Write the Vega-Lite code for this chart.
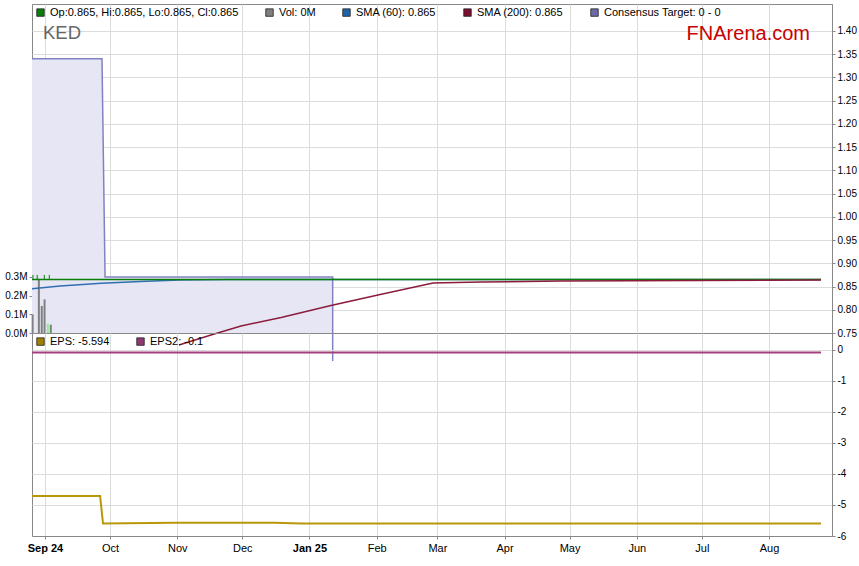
{
  "$schema": "https://vega.github.io/schema/vega-lite/v6.json",
  "autosize": {"type": "pad"},
  "padding": {"left": 4, "top": 3, "right": 5, "bottom": 5},
  "background": "white",
  "bounds": "flush",
  "spacing": 0,
  "config": {
    "font": "Liberation Sans",
    "view": {"stroke": "#888888"},
    "axis": {"labelFont": "Liberation Sans", "labelFontSize": 10, "labelColor": "#000000", "tickColor": "#888888", "domainColor": "#888888", "gridColor": "#dcdcdc", "tickSize": 3, "labelPadding": 2}
  },
  "resolve": {"scale": {"color": "independent"}, "legend": {"color": "independent"}},
  "vconcat": [
    {
      "width": 800,
      "height": 329,
      "resolve": {"scale": {"y": "independent"}},
      "encoding": {
        "x": {"field": "date", "type": "temporal",
          "scale": {"type": "utc", "padding": 0, "domain": [{"year": 2024, "month": 8, "date": 26, "utc": true}, {"year": 2025, "month": 8, "date": 30, "hours": 1, "minutes": 26, "utc": true}]},
          "axis": {"values": [{"year": 2024, "month": 9, "date": 1, "utc": true}, {"year": 2024, "month": 10, "date": 1, "utc": true}, {"year": 2024, "month": 11, "date": 1, "utc": true}, {"year": 2024, "month": 12, "date": 1, "utc": true}, {"year": 2025, "month": 1, "date": 1, "utc": true}, {"year": 2025, "month": 2, "date": 1, "utc": true}, {"year": 2025, "month": 3, "date": 1, "utc": true}, {"year": 2025, "month": 4, "date": 1, "utc": true}, {"year": 2025, "month": 5, "date": 1, "utc": true}, {"year": 2025, "month": 6, "date": 1, "utc": true}, {"year": 2025, "month": 7, "date": 1, "utc": true}, {"year": 2025, "month": 8, "date": 1, "utc": true}], "labels": false, "ticks": false, "domain": false, "grid": true, "title": null}}
      },
      "layer": [
        {
          "data": {"values": [{}]},
          "mark": {"type": "rect", "color": "#e4e4e4"},
          "encoding": {
            "x": {"datum": {"year": 2024, "month": 8, "date": 26, "utc": true}, "type": "temporal"},
            "x2": {"datum": {"year": 2025, "month": 8, "date": 30, "hours": 1, "minutes": 26, "utc": true}},
            "y": {"datum": 1.4581, "type": "quantitative", "scale": {"domain": [0.75, 1.4581], "nice": false, "zero": false},
              "axis": {"orient": "right", "values": [0.75, 0.8, 0.85, 0.9, 0.95, 1.0, 1.05, 1.1, 1.15, 1.2, 1.25, 1.3, 1.35, 1.4], "format": ".2f", "grid": true, "title": null}},
            "y2": {"datum": 1.428}
          }
        },
        {
          "data": {"values": [{}]},
          "mark": {"type": "rect", "color": "#e4e4e4", "clip": false},
          "encoding": {
            "x": {"datum": {"year": 2024, "month": 8, "date": 26, "utc": true}, "type": "temporal"},
            "x2": {"datum": {"year": 2025, "month": 8, "date": 30, "hours": 1, "minutes": 26, "utc": true}},
            "y": {"datum": 0.7478, "type": "quantitative", "scale": {"domain": [0.75, 1.4581], "nice": false, "zero": false}, "axis": null},
            "y2": {"datum": 0.7177}
          }
        },
        {
          "data": {"values": [
            {"i": 0, "date": "2024-08-26T00:00:00Z", "v": 1.34},
            {"i": 1, "date": "2024-09-27T07:00:00Z", "v": 1.34},
            {"i": 2, "date": "2024-09-28T17:00:00Z", "v": 0.8705},
            {"i": 3, "date": "2025-01-11T17:00:00Z", "v": 0.8705},
            {"i": 4, "date": "2025-01-11T17:00:00Z", "v": 0.6897}
          ]},
          "transform": [{"filter": "datum.i < 4"}],
          "mark": {"type": "area", "color": "#e6e6f5"},
          "encoding": {
            "y": {"field": "v", "type": "quantitative", "scale": {"domain": [0.75, 1.4581], "nice": false, "zero": false}, "axis": null},
            "y2": {"datum": 0.75}
          }
        },
        {
          "data": {"values": [
            {"i": 0, "date": "2024-08-26T00:00:00Z", "v": 1.34},
            {"i": 1, "date": "2024-09-27T07:00:00Z", "v": 1.34},
            {"i": 2, "date": "2024-09-28T17:00:00Z", "v": 0.8705},
            {"i": 3, "date": "2025-01-11T17:00:00Z", "v": 0.8705},
            {"i": 4, "date": "2025-01-11T17:00:00Z", "v": 0.6897}
          ]},
          "mark": {"type": "line", "color": "#8282c2", "strokeWidth": 1.5, "clip": false},
          "encoding": {
            "y": {"field": "v", "type": "quantitative", "scale": {"domain": [0.75, 1.4581], "nice": false, "zero": false}, "axis": null},
            "order": {"field": "i", "type": "quantitative"}
          }
        },
        {
          "data": {"values": [
            {"date": "2024-08-26T07:00:00Z", "volume": 100000, "change": "down"},
            {"date": "2024-08-29T04:00:00Z", "volume": 290000, "change": "down"},
            {"date": "2024-08-30T12:00:00Z", "volume": 145000, "change": "down"},
            {"date": "2024-08-31T19:00:00Z", "volume": 180000, "change": "down"},
            {"date": "2024-09-02T07:00:00Z", "volume": 50000, "change": "up"},
            {"date": "2024-09-03T16:00:00Z", "volume": 45000, "change": "down"}
          ]},
          "mark": {"type": "bar", "width": 2},
          "encoding": {
            "y": {"field": "volume", "type": "quantitative", "scale": {"domain": [0, 1762000], "nice": false},
              "axis": {"orient": "left", "values": [0, 100000, 200000, 300000], "labelExpr": "format(datum.value / 1000000, '.1f') + 'M'", "grid": false, "domain": false, "title": null}},
            "color": {"condition": {"test": "datum.change === 'up'", "value": "#90ee90"}, "value": "#808080"}
          }
        },
        {
          "data": {"values": [
            {"date": "2024-08-26T10:30:00Z", "low": 0.865, "high": 0.875},
            {"date": "2024-08-28T09:30:00Z", "low": 0.865, "high": 0.875},
            {"date": "2024-08-31T16:00:00Z", "low": 0.865, "high": 0.875},
            {"date": "2024-09-02T23:30:00Z", "low": 0.865, "high": 0.875}
          ]},
          "mark": {"type": "rule", "color": "#0a800a", "strokeWidth": 1},
          "encoding": {
            "y": {"field": "low", "type": "quantitative", "scale": {"domain": [0.75, 1.4581], "nice": false, "zero": false}, "axis": null},
            "y2": {"field": "high"}
          }
        },
        {
          "data": {"values": [
            {"date": "2024-08-26T00:00:00Z", "v": 0.845},
            {"date": "2024-09-08T00:00:00Z", "v": 0.851},
            {"date": "2024-09-27T00:00:00Z", "v": 0.857},
            {"date": "2024-10-15T00:00:00Z", "v": 0.861},
            {"date": "2024-11-02T00:00:00Z", "v": 0.864},
            {"date": "2024-11-25T00:00:00Z", "v": 0.865},
            {"date": "2025-08-25T00:00:00Z", "v": 0.865}
          ]},
          "mark": {"type": "line", "color": "#2f6fb0", "strokeWidth": 1.5},
          "encoding": {
            "y": {"field": "v", "type": "quantitative", "scale": {"domain": [0.75, 1.4581], "nice": false, "zero": false}, "axis": null}
          }
        },
        {
          "data": {"values": [
            {"date": "2024-08-26T00:00:00Z", "v": 0.865},
            {"date": "2025-08-25T00:00:00Z", "v": 0.865}
          ]},
          "mark": {"type": "line", "color": "#0a800a", "strokeWidth": 1.5},
          "encoding": {
            "y": {"field": "v", "type": "quantitative", "scale": {"domain": [0.75, 1.4581], "nice": false, "zero": false}, "axis": null}
          }
        },
        {
          "data": {"values": [
            {"date": "2024-11-01T19:00:00Z", "v": 0.724},
            {"date": "2024-11-16T14:00:00Z", "v": 0.7457},
            {"date": "2024-11-30T10:00:00Z", "v": 0.7651},
            {"date": "2024-12-18T22:00:00Z", "v": 0.7834},
            {"date": "2025-01-10T22:00:00Z", "v": 0.8092},
            {"date": "2025-02-01T14:00:00Z", "v": 0.8318},
            {"date": "2025-02-27T00:00:00Z", "v": 0.8576},
            {"date": "2025-03-21T00:00:00Z", "v": 0.8598},
            {"date": "2025-04-27T00:00:00Z", "v": 0.8619},
            {"date": "2025-08-25T00:00:00Z", "v": 0.864}
          ]},
          "mark": {"type": "line", "color": "#8b1c3c", "strokeWidth": 1.5, "clip": false},
          "encoding": {
            "y": {"field": "v", "type": "quantitative", "scale": {"domain": [0.75, 1.4581], "nice": false, "zero": false}, "axis": null}
          }
        },
        {
          "data": {"values": [{"label": "KED", "date": "2024-08-31T02:00:00Z", "v": 1.3957}]},
          "mark": {"type": "text", "align": "left", "baseline": "middle", "fontSize": 18.5, "fill": "#666666", "font": "Liberation Sans"},
          "encoding": {
            "y": {"field": "v", "type": "quantitative", "scale": {"domain": [0.75, 1.4581], "nice": false, "zero": false}, "axis": null},
            "text": {"field": "label", "type": "nominal"}
          }
        },
        {
          "data": {"values": [{"label": "FNArena.com", "date": "2025-08-19T21:40:00Z", "v": 1.3946}]},
          "mark": {"type": "text", "align": "right", "baseline": "middle", "fontSize": 20, "fill": "#c80000", "font": "Liberation Sans"},
          "encoding": {
            "y": {"field": "v", "type": "quantitative", "scale": {"domain": [0.75, 1.4581], "nice": false, "zero": false}, "axis": null},
            "text": {"field": "label", "type": "nominal"}
          }
        },
        {
          "data": {"values": [
            {"series": "Op:0.865, Hi:0.865, Lo:0.865, Cl:0.865"},
            {"series": "Vol: 0M"},
            {"series": "SMA (60): 0.865"},
            {"series": "SMA (200): 0.865"},
            {"series": "Consensus Target: 0 - 0"}
          ]},
          "mark": {"type": "point", "shape": "square", "filled": true, "opacity": 0},
          "encoding": {
            "x": {"datum": {"year": 2025, "month": 1, "date": 1, "utc": true}, "type": "temporal"},
            "y": {"datum": 1.0, "type": "quantitative", "scale": {"domain": [0.75, 1.4581], "nice": false, "zero": false}, "axis": null},
            "color": {"field": "series", "type": "nominal",
              "scale": {"domain": ["Op:0.865, Hi:0.865, Lo:0.865, Cl:0.865", "Vol: 0M", "SMA (60): 0.865", "SMA (200): 0.865", "Consensus Target: 0 - 0"], "range": ["#0a7d0a", "#7f7f7f", "#1f64a6", "#7b1030", "#6b6ba3"]},
              "legend": {"orient": "top-left", "offset": 0, "padding": 3, "title": null, "direction": "horizontal", "columnPadding": 25, "labelFont": "Liberation Sans", "labelFontSize": 11, "labelColor": "#000000", "labelLimit": 500, "labelOffset": 4, "symbolType": "square", "symbolSize": 56, "symbolOpacity": 1, "symbolStrokeColor": "#222222", "symbolStrokeWidth": 0.8}}
          }
        }
      ]
    },
    {
      "width": 800,
      "height": 203,
      "encoding": {
        "x": {"field": "date", "type": "temporal",
          "scale": {"type": "utc", "padding": 0, "domain": [{"year": 2024, "month": 8, "date": 26, "utc": true}, {"year": 2025, "month": 8, "date": 30, "hours": 1, "minutes": 26, "utc": true}]},
          "axis": {"values": [{"year": 2024, "month": 9, "date": 1, "utc": true}, {"year": 2024, "month": 10, "date": 1, "utc": true}, {"year": 2024, "month": 11, "date": 1, "utc": true}, {"year": 2024, "month": 12, "date": 1, "utc": true}, {"year": 2025, "month": 1, "date": 1, "utc": true}, {"year": 2025, "month": 2, "date": 1, "utc": true}, {"year": 2025, "month": 3, "date": 1, "utc": true}, {"year": 2025, "month": 4, "date": 1, "utc": true}, {"year": 2025, "month": 5, "date": 1, "utc": true}, {"year": 2025, "month": 6, "date": 1, "utc": true}, {"year": 2025, "month": 7, "date": 1, "utc": true}, {"year": 2025, "month": 8, "date": 1, "utc": true}],
            "labelExpr": "(utcmonth(datum.value) === 0 || utcmonth(datum.value) === 8) ? utcFormat(datum.value, '%b %y') : utcFormat(datum.value, '%b')",
            "labelFontWeight": {"condition": {"test": "utcmonth(datum.value) === 0 || utcmonth(datum.value) === 8", "value": "bold"}, "value": "normal"},
            "labelFontSize": 11, "labelFlush": false, "labelOverlap": false, "grid": true, "labelPadding": 3, "title": null}}
      },
      "layer": [
        {
          "data": {"values": [
            {"date": "2024-08-26T00:00:00Z", "eps2": -0.1},
            {"date": "2025-08-25T00:00:00Z", "eps2": -0.1}
          ]},
          "mark": {"type": "line", "color": "#a3407c", "strokeWidth": 2},
          "encoding": {
            "y": {"field": "eps2", "type": "quantitative", "scale": {"domain": [-6, 0.531], "nice": false, "zero": false},
              "axis": {"orient": "right", "values": [0, -1, -2, -3, -4, -5, -6], "labelExpr": "'' + datum.value", "grid": true, "title": null}}
          }
        },
        {
          "data": {"values": [
            {"date": "2024-08-26T00:00:00Z", "eps": -4.71},
            {"date": "2024-09-26T10:00:00Z", "eps": -4.71},
            {"date": "2024-09-27T18:00:00Z", "eps": -5.6},
            {"date": "2024-10-31T00:00:00Z", "eps": -5.57},
            {"date": "2024-12-16T00:00:00Z", "eps": -5.57},
            {"date": "2024-12-28T00:00:00Z", "eps": -5.594},
            {"date": "2025-08-25T00:00:00Z", "eps": -5.594}
          ]},
          "mark": {"type": "line", "color": "#b8980a", "strokeWidth": 2},
          "encoding": {
            "y": {"field": "eps", "type": "quantitative", "scale": {"domain": [-6, 0.531], "nice": false, "zero": false},
              "axis": {"orient": "right", "values": [0, -1, -2, -3, -4, -5, -6], "labelExpr": "'' + datum.value", "grid": true, "title": null}}
          }
        },
        {
          "data": {"values": [
            {"series": "EPS: -5.594"},
            {"series": "EPS2: -0.1"}
          ]},
          "mark": {"type": "point", "shape": "square", "filled": true, "opacity": 0},
          "encoding": {
            "x": {"datum": {"year": 2025, "month": 1, "date": 1, "utc": true}, "type": "temporal"},
            "y": {"datum": -3, "type": "quantitative", "scale": {"domain": [-6, 0.531], "nice": false, "zero": false},
              "axis": {"orient": "right", "values": [0, -1, -2, -3, -4, -5, -6], "labelExpr": "'' + datum.value", "grid": true, "title": null}},
            "color": {"field": "series", "type": "nominal",
              "scale": {"domain": ["EPS: -5.594", "EPS2: -0.1"], "range": ["#a08000", "#8e3a70"]},
              "legend": {"orient": "top-left", "offset": 0, "padding": 3, "title": null, "direction": "horizontal", "columnPadding": 25, "labelFont": "Liberation Sans", "labelFontSize": 11, "labelColor": "#000000", "labelLimit": 500, "labelOffset": 4, "symbolType": "square", "symbolSize": 56, "symbolOpacity": 1, "symbolStrokeColor": "#222222", "symbolStrokeWidth": 0.8}}
          }
        }
      ]
    }
  ]
}
